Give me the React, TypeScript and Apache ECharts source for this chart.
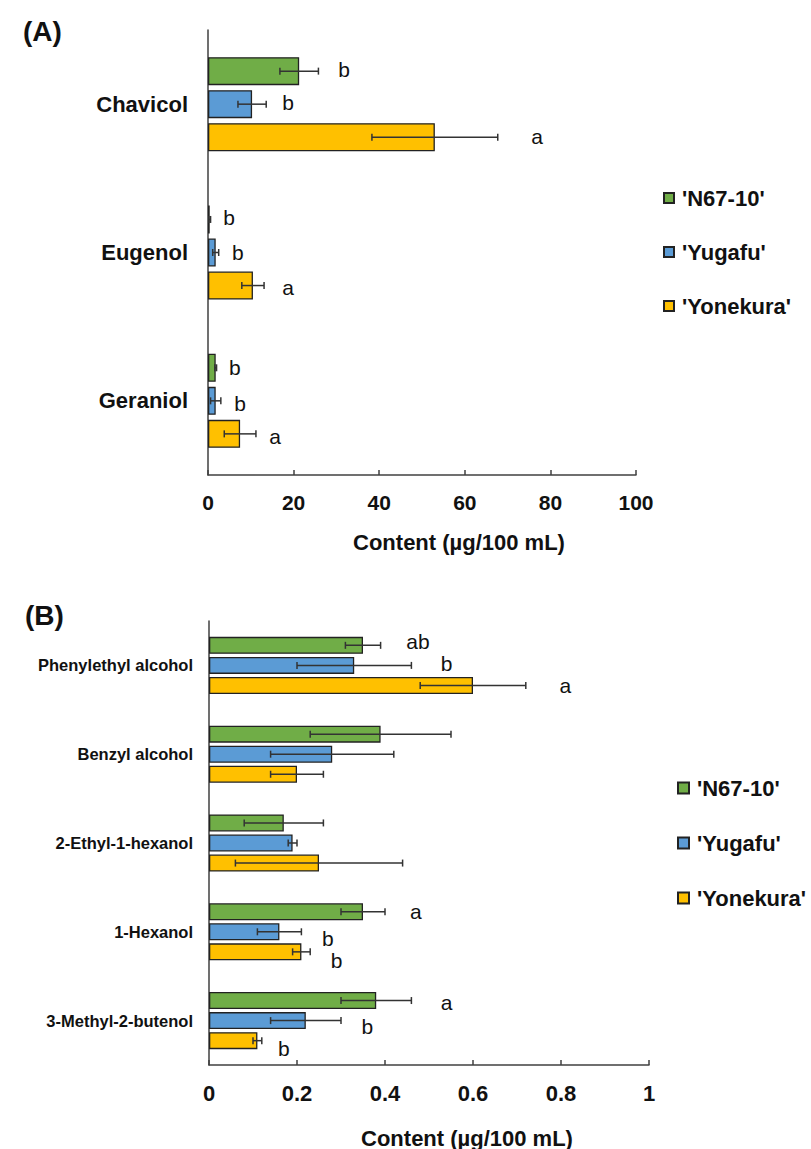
import React, { useEffect, useRef } from "react";
import * as echarts from "echarts";

// ---------- Data ----------
const varieties = ["'N67-10'", "'Yugafu'", "'Yonekura'"];
const colors = ["#70AD47", "#5B9BD5", "#FFC000"];

// Panel A (µg/100 mL)
const catsA = ["Chavicol", "Eugenol", "Geraniol"];
const n67A = [21.3, 0.4, 1.8];
const n67ASd = [4.5, 0.2, 0.2];
const yugA = [10.3, 1.8, 1.8];
const yugASd = [3.3, 0.7, 1.2];
const yonA = [53.0, 10.5, 7.5];
const yonASd = [14.7, 2.6, 3.7];
const n67ALetters = ["b", "b", "b"];
const yugALetters = ["b", "b", "b"];
const yonALetters = ["a", "a", "a"];
const n67ALetterX = [31.8, 4.9, 6.3];
const yugALetterX = [18.7, 7.0, 7.5];
const yonALetterX = [76.9, 18.7, 15.7];
const ticksA = [0, 20, 40, 60, 80, 100];

// Panel B (µg/100 mL)
const catsB = ["Phenylethyl alcohol", "Benzyl alcohol", "2-Ethyl-1-hexanol", "1-Hexanol", "3-Methyl-2-butenol"];
const n67B = [0.35, 0.39, 0.17, 0.35, 0.38];
const n67BSd = [0.04, 0.16, 0.09, 0.05, 0.08];
const yugB = [0.33, 0.28, 0.19, 0.16, 0.22];
const yugBSd = [0.13, 0.14, 0.01, 0.05, 0.08];
const yonB = [0.6, 0.2, 0.25, 0.21, 0.11];
const yonBSd = [0.12, 0.06, 0.19, 0.02, 0.01];
const n67BLetters = ["ab", "", "", "a", "a"];
const yugBLetters = ["b", "", "", "b", "b"];
const yonBLetters = ["a", "", "", "b", "b"];
const n67BLetterX = [0.475, 0, 0, 0.47, 0.54];
const yugBLetterX = [0.54, 0, 0, 0.27, 0.36];
const yonBLetterX = [0.81, 0, 0, 0.29, 0.17];
const ticksB = [0, 0.2, 0.4, 0.6, 0.8, 1];

// letter vertical nudges (px) — layout only
const letterDyA = [
  [-2, -2, 0],
  [-2, 0, 3],
  [-1, 2, 3],
];
const letterDyB = [
  [-4, 0, 0, 0, 2],
  [-2, 0, 0, 7, 6],
  [0, 0, 0, 9, 8],
];

const FONT = "'Liberation Sans', Arial, sans-serif";
const AXIS_COLOR = "#404040";

export default function App() {
  const ref = useRef<HTMLDivElement>(null);

  useEffect(() => {
    if (!ref.current) return;
    const chart = echarts.init(ref.current, undefined, { renderer: "svg" });

    const barWA = 28;
    const barWB = 17;
    const gapFrac = 0.18;

    const panels = [
      {
        grid: 0,
        barW: barWA,
        vals: [n67A, yugA, yonA],
        sds: [n67ASd, yugASd, yonASd],
        letters: [n67ALetters, yugALetters, yonALetters],
        letterX: [n67ALetterX, yugALetterX, yonALetterX],
        dy: letterDyA,
      },
      {
        grid: 1,
        barW: barWB,
        vals: [n67B, yugB, yonB],
        sds: [n67BSd, yugBSd, yonBSd],
        letters: [n67BLetters, yugBLetters, yonBLetters],
        letterX: [n67BLetterX, yugBLetterX, yonBLetterX],
        dy: letterDyB,
      },
    ];

    const series: any[] = [];
    panels.forEach((p) => {
      p.vals.forEach((vals, si) => {
        series.push({
          type: "bar",
          name: varieties[si],
          xAxisIndex: p.grid,
          yAxisIndex: p.grid,
          data: vals,
          barWidth: p.barW,
          barGap: gapFrac * 100 + "%",
          itemStyle: { color: colors[si], borderColor: "#222", borderWidth: 1.3 },
        });
      });
    });
    panels.forEach((p) => {
      p.vals.forEach((vals, si) => {
        const offset = (si - 1) * p.barW * (1 + gapFrac);
        const letters = p.letters[si];
        series.push({
          type: "custom",
          name: "err" + p.grid + "_" + si,
          xAxisIndex: p.grid,
          yAxisIndex: p.grid,
          z: 5,
          clip: false,
          encode: { x: 1, y: 0 },
          data: vals.map((v, ci) => [ci, v, p.sds[si][ci], p.letterX[si][ci], p.dy[si][ci]]),
          renderItem: (params: any, api: any) => {
            const ci = api.value(0);
            const mean = api.value(1);
            const sd = api.value(2);
            const lx = api.value(3);
            const dy = api.value(4);
            const c = api.coord([mean, ci]);
            const y = c[1] + offset;
            const xl = api.coord([Math.max(0, mean - sd), ci])[0];
            const xr = api.coord([mean + sd, ci])[0];
            const cap = 3.5;
            const ls = { stroke: "#333", lineWidth: 1.5 };
            const children: any[] = [
              { type: "line", shape: { x1: xl, y1: y, x2: xr, y2: y }, style: ls },
              { type: "line", shape: { x1: xl, y1: y - cap, x2: xl, y2: y + cap }, style: ls },
              { type: "line", shape: { x1: xr, y1: y - cap, x2: xr, y2: y + cap }, style: ls },
            ];
            const letter = letters[ci];
            if (letter) {
              children.push({
                type: "text",
                x: api.coord([lx, ci])[0],
                y: y + dy,
                style: {
                  text: letter,
                  fill: "#111",
                  font: `21px ${FONT}`,
                  align: "center",
                  verticalAlign: "middle",
                },
              });
            }
            return { type: "group", children };
          },
        });
      });
    });

    const tickLabel = (size: number) => ({
      fontFamily: FONT,
      fontWeight: "bold",
      fontSize: size,
      color: "#111",
    });

    const legendText = {
      fontFamily: FONT,
      fontWeight: "bold",
      fontSize: 22,
      lineHeight: 22,
      color: "#111",
      padding: [0, 0, 0, 3],
    };

    const option: any = {
      animation: false,
      backgroundColor: "#fff",
      grid: [
        { left: 208, top: 30, width: 428, height: 445 },
        { left: 209, top: 621, width: 440, height: 444 },
      ],
      xAxis: [
        {
          gridIndex: 0,
          type: "value",
          min: 0,
          max: 100,
          interval: 20,
          axisLine: { show: true, lineStyle: { color: AXIS_COLOR, width: 1.5 } },
          axisTick: { show: true, inside: true, length: 5, lineStyle: { color: AXIS_COLOR, width: 1.5 } },
          splitLine: { show: false },
          axisLabel: { ...tickLabel(21), margin: 17, formatter: (v: number) => (ticksA.includes(v) ? String(v) : "") },
        },
        {
          gridIndex: 1,
          type: "value",
          min: 0,
          max: 1,
          interval: 0.2,
          axisLine: { show: true, lineStyle: { color: AXIS_COLOR, width: 1.5 } },
          axisTick: { show: true, inside: true, length: 5, lineStyle: { color: AXIS_COLOR, width: 1.5 } },
          splitLine: { show: false },
          axisLabel: {
            ...tickLabel(22),
            margin: 17,
            formatter: (v: number) => {
              const t = ticksB.find((k) => Math.abs(k - v) < 1e-9);
              return t === undefined ? "" : String(t);
            },
          },
        },
      ],
      yAxis: [
        {
          gridIndex: 0,
          type: "category",
          data: catsA,
          inverse: true,
          axisLine: { show: true, lineStyle: { color: AXIS_COLOR, width: 1.5 } },
          axisTick: { show: false },
          axisLabel: { ...tickLabel(22), margin: 20 },
        },
        {
          gridIndex: 1,
          type: "category",
          data: catsB,
          inverse: true,
          axisLine: { show: true, lineStyle: { color: AXIS_COLOR, width: 1.5 } },
          axisTick: { show: false },
          axisLabel: { ...tickLabel(16.5), margin: 16 },
        },
      ],
      legend: [
        {
          data: varieties,
          orient: "vertical",
          left: 663,
          top: 187,
          padding: 0,
          itemWidth: 10,
          itemHeight: 10,
          itemGap: 32,
          icon: "rect",
          selectedMode: false,
          textStyle: legendText,
        },
        {
          data: varieties,
          orient: "vertical",
          left: 677,
          top: 777,
          padding: 0,
          itemWidth: 11,
          itemHeight: 11,
          itemGap: 33,
          icon: "rect",
          selectedMode: false,
          textStyle: legendText,
        },
      ],
      graphic: [
        {
          type: "text",
          left: 23,
          top: 17,
          style: { text: "(A)", font: `bold 28px ${FONT}`, fill: "#111" },
        },
        {
          type: "text",
          left: 25,
          top: 601,
          style: { text: "(B)", font: `bold 28px ${FONT}`, fill: "#111" },
        },
        {
          type: "text",
          x: 459,
          y: 542,
          style: { text: "Content (µg/100 mL)", font: `bold 22px ${FONT}`, fill: "#111", align: "center", verticalAlign: "middle" },
        },
        {
          type: "text",
          x: 467,
          y: 1138,
          style: { text: "Content (µg/100 mL)", font: `bold 22px ${FONT}`, fill: "#111", align: "center", verticalAlign: "middle" },
        },
      ],
      series,
    };

    chart.setOption(option);
    return () => chart.dispose();
  }, []);

  return (
    <div
      ref={ref}
      style={{ position: "absolute", left: 0, top: 0, width: 811, height: 1149 }}
    />
  );
}
